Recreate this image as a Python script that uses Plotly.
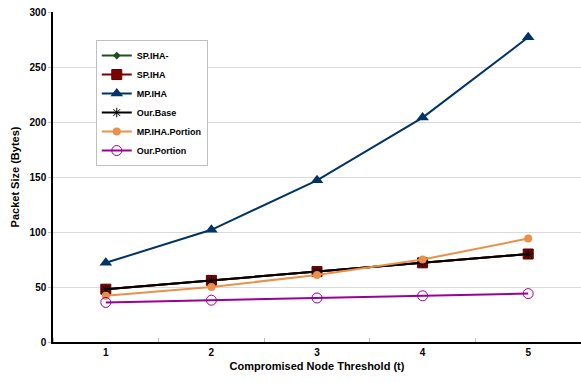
import plotly.graph_objects as go

thresholds = [1, 2, 3, 4, 5]
sp_iha_minus = [48, 56, 64, 72, 80]
sp_iha = [48, 56, 64, 72, 80]
mp_iha = [72, 102, 147, 204, 277]
our_base = [48, 56, 64, 72, 80]
mp_iha_portion = [42, 50, 61, 75, 94]
our_portion = [36, 38, 40, 42, 44]

series = [
    ("SP.IHA-", sp_iha_minus, "#1F4E1F", dict(symbol="diamond", size=6)),
    ("SP.IHA", sp_iha, "#7F0000", dict(symbol="square", size=10, line=dict(color="#5A0000", width=1))),
    ("MP.IHA", mp_iha, "#003366", dict(symbol="triangle-up", size=11)),
    ("Our.Base", our_base, "#000000", dict(symbol="asterisk-open", size=8, line=dict(color="#000000", width=1))),
    ("MP.IHA.Portion", mp_iha_portion, "#E8914A", dict(symbol="circle", size=8)),
    ("Our.Portion", our_portion, "#990099", dict(symbol="circle-open", size=10, line=dict(color="#990099", width=1))),
]

fig = go.Figure()
for name, vals, color, mk in series:
    mk = dict(mk)
    mk["color"] = color
    fig.add_trace(go.Scatter(
        x=thresholds, y=vals, name=name, mode="lines+markers",
        line=dict(color=color, width=2), marker=mk,
    ))

fig.update_layout(
    width=581, height=383,
    margin=dict(l=53, r=0, t=12, b=41),
    paper_bgcolor="white", plot_bgcolor="white",
    font=dict(family="Liberation Sans, Arial, sans-serif", color="#000000"),
    showlegend=True,
    legend=dict(
        x=0.081, y=0.915, xanchor="left", yanchor="top",
        bgcolor="white", bordercolor="#BFBFBF", borderwidth=1,
        font=dict(size=9, family="Liberation Sans, Arial, sans-serif", weight="bold"),
        tracegroupgap=0, itemwidth=30,
    ),
    xaxis=dict(
        range=[0.5, 5.5], tickvals=thresholds, ticktext=[str(t) for t in thresholds],
        showgrid=False, zeroline=False, automargin=False,
        showline=True, linecolor="#000000", linewidth=1.5,
        ticks="", tickfont=dict(size=10, weight="bold"),
        minor=dict(tick0=0.5, dtick=1, ticks="inside", ticklen=4, tickcolor="#BFBFBF", showgrid=False),
        title=dict(text="<b>Compromised Node Threshold (t)</b>", font=dict(size=11), standoff=6),
    ),
    yaxis=dict(
        range=[0, 300], dtick=50, showgrid=True, gridcolor="#D9D9D9", gridwidth=1,
        zeroline=False, showline=True, linecolor="#000000", linewidth=1.5, automargin=False,
        ticks="outside", ticklen=3, tickcolor="#BFBFBF",
        tickfont=dict(size=10, weight="bold"),
        title=dict(text="<b>Packet Size (Bytes)</b>", font=dict(size=11), standoff=8),
    ),
)

fig.write_html("out.html", config={"displayModeBar": False},
               post_script="document.body.style.margin='0px';")
